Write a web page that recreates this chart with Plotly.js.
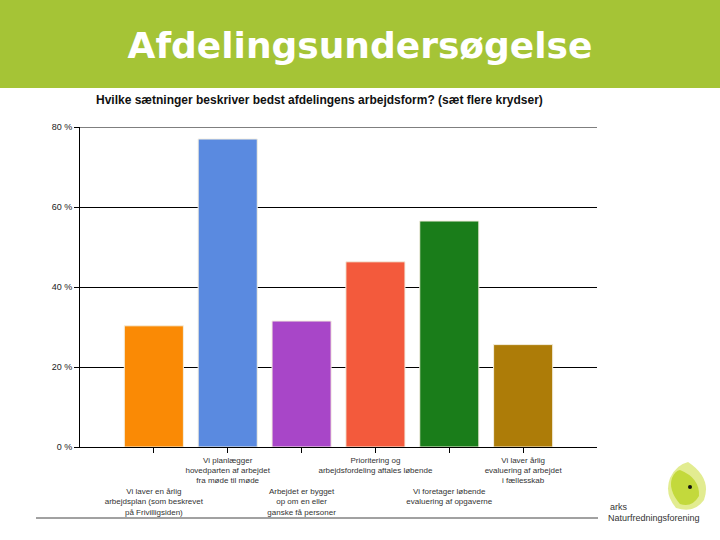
<!DOCTYPE html>
<html>
<head>
<meta charset="utf-8">
<script src="https://cdn.plot.ly/plotly-3.0.1.min.js"></script>
<style>
  body { margin: 0; background: #fff; }
  #chart { width: 720px; height: 540px; }
</style>
</head>
<body>
<div id="chart"></div>
<script>
const categories = [
  'Vi laver en årlig<br>arbejdsplan (som beskrevet<br>på Frivilligsiden)',
  'Vi planlægger<br>hovedparten af arbejdet<br>fra møde til møde',
  'Arbejdet er bygget<br>op om en eller<br>ganske få personer',
  'Prioritering og<br>arbejdsfordeling aftales løbende',
  'Vi foretager løbende<br>evaluering af opgaverne',
  'Vi laver årlig<br>evaluering af arbejdet<br>i fællesskab'
];
const shares = [30.3, 77, 31.5, 46.3, 56.5, 25.6];
const barColors = ['#fa8a05', '#5a8ae0', '#a846c8', '#f35a3c', '#1a7d1a', '#ad7c08'];
const yTicks = [0, 20, 40, 60, 80];
const yTickLabels = ['0 %', '20 %', '40 %', '60 %', '80 %'];

const W = 720, H = 540;
const px = (x) => x / W;
const py = (y) => 1 - y / H;

// odd categories sit on a lower row, like the original
const xIdx = categories.map((_, i) => i);
const tickText = categories.map((c, i) => (i % 2 === 0 ? '<br><br><br>' + c : c));

const trace = {
  x: xIdx,
  y: shares,
  type: 'bar',
  width: 0.8,
  marker: {
    color: barColors,
    line: { color: '#f4efe0', width: 1 },
  },
  hoverinfo: 'y',
};

// leaf logo drawn in paper coords
const pt = (x, y) => px(x).toFixed(4) + ',' + py(y).toFixed(4);
const leafOuter = 'M' + pt(688, 462) + ' Q' + pt(712, 478) + ' ' + pt(704, 500) +
  ' Q' + pt(694, 514) + ' ' + pt(676, 508) + ' Q' + pt(664, 494) + ' ' + pt(670, 478) +
  ' Q' + pt(676, 465) + ' ' + pt(688, 462) + ' Z';
const leafInner = 'M' + pt(680, 470) + ' Q' + pt(700, 478) + ' ' + pt(699, 496) +
  ' Q' + pt(692, 508) + ' ' + pt(680, 504) + ' Q' + pt(668, 490) + ' ' + pt(672, 478) +
  ' Q' + pt(675, 471) + ' ' + pt(680, 470) + ' Z';

const layout = {
  width: W,
  height: H,
  margin: { l: 0, r: 0, t: 0, b: 0 },
  paper_bgcolor: '#fff',
  plot_bgcolor: '#fff',
  showlegend: false,
  bargap: 0.2,
  title: {
    text: 'Afdelingsundersøgelse',
    font: { family: 'DejaVu Sans', size: 36, color: '#ffffff', weight: 'bold' },
    x: 0.5,
    xanchor: 'center',
    y: py(45),
    yanchor: 'middle',
    xref: 'paper',
    yref: 'paper',
  },
  xaxis: {
    domain: [px(80), px(597)],
    range: [-1, 6],
    tickmode: 'array',
    tickvals: xIdx,
    ticktext: tickText,
    tickfont: { family: 'Liberation Sans, Arial', size: 8, color: '#333' },
    ticks: 'outside',
    ticklen: 5,
    tickcolor: '#000',
    showgrid: false,
    showline: true,
    linecolor: '#000',
    zeroline: false,
    tickangle: 0,
    fixedrange: true,
  },
  yaxis: {
    domain: [py(447), py(127)],
    range: [0, 80],
    tickmode: 'array',
    tickvals: yTicks,
    ticktext: yTickLabels,
    tickfont: { family: 'Liberation Sans, Arial', size: 9, color: '#222' },
    ticks: 'outside',
    ticklen: 5,
    tickcolor: '#000',
    showgrid: true,
    gridcolor: '#000',
    gridwidth: 1,
    showline: true,
    linecolor: '#000',
    zeroline: false,
    fixedrange: true,
  },
  shapes: [
    { type: 'rect', xref: 'paper', yref: 'paper', x0: 0, x1: 1, y0: py(88), y1: 1,
      fillcolor: '#a5c436', line: { width: 0 }, layer: 'below' },
    // top gridline (plotly drops the one sitting on the plot edge)
    { type: 'line', xref: 'x domain', yref: 'y', x0: 0, x1: 1,
      y0: yTicks[yTicks.length - 1], y1: yTicks[yTicks.length - 1],
      line: { color: '#000', width: 1 } },
    { type: 'line', xref: 'paper', yref: 'paper', x0: px(36), x1: px(598), y0: py(518), y1: py(518),
      line: { color: '#444', width: 1 } },
    { type: 'path', xref: 'paper', yref: 'paper', path: leafOuter,
      fillcolor: '#e2ec90', line: { width: 0 } },
    { type: 'path', xref: 'paper', yref: 'paper', path: leafInner,
      fillcolor: '#c3d93c', line: { width: 0 } },
    { type: 'circle', xref: 'paper', yref: 'paper', x0: px(688), x1: px(692), y0: py(489), y1: py(485),
      fillcolor: '#111', line: { width: 0 } },
  ],
  annotations: [
    { text: '<b>Hvilke sætninger beskriver bedst afdelingens arbejdsform? (sæt flere krydser)</b>',
      xref: 'paper', yref: 'paper', x: px(94), y: py(100), xanchor: 'left', yanchor: 'middle',
      showarrow: false, font: { family: 'Liberation Sans, Arial', size: 12, color: '#111' } },
    { text: 'arks', xref: 'paper', yref: 'paper', x: px(608), y: py(507), xanchor: 'left', yanchor: 'middle',
      showarrow: false, font: { family: 'Liberation Sans, Arial', size: 9, color: '#333' } },
    { text: 'Naturfredningsforening', xref: 'paper', yref: 'paper', x: px(606), y: py(518),
      xanchor: 'left', yanchor: 'middle',
      showarrow: false, font: { family: 'Liberation Sans, Arial', size: 9, color: '#333' } },
  ],
};

const config = {
  displayModeBar: false,
  staticPlot: true,
};

Plotly.newPlot('chart', [trace], layout, config);
</script>
</body>
</html>
